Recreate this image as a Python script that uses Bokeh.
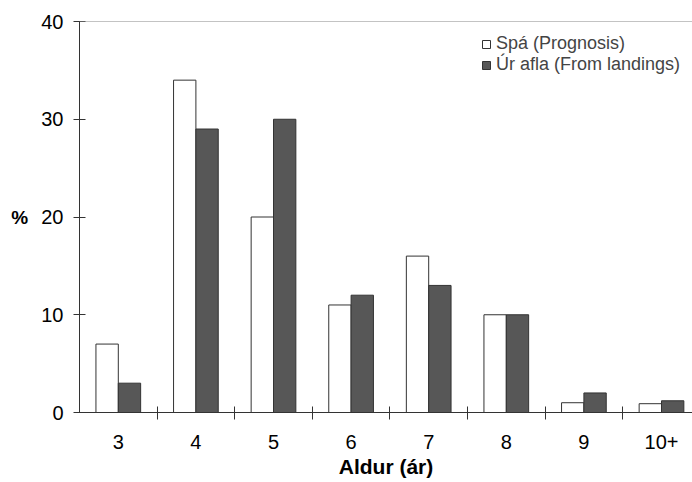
from bokeh.plotting import figure
from bokeh.models import Range1d, FixedTicker, Span, Legend, LegendItem
from bokeh.embed import file_html
from bokeh.resources import INLINE

ages = ["3", "4", "5", "6", "7", "8", "9", "10+"]
prognosis = [7, 34, 20, 11, 16, 10, 1, 0.9]
landings = [3, 29, 30, 12, 13, 10, 2, 1.2]
y_ticks = [0, 10, 20, 30, 40]

FONT = "Liberation Sans"
pos = list(range(1, len(ages) + 1))
bw = 0.288

p = figure(width=692, height=482, output_backend="svg", toolbar_location=None,
           x_range=Range1d(0.5, 0.5 + 613 / 77.6), y_range=Range1d(0, 40),
           min_border_left=79, min_border_top=21, min_border_right=0,
           min_border_bottom=70)
p.outline_line_color = None
p.xgrid.visible = False
p.ygrid.visible = False
p.background_fill_color = "white"

r1 = p.vbar(x=[x - bw / 2 for x in pos], top=prognosis, bottom=0, width=bw,
            fill_color="white", line_color="#333333", line_width=1)
r2 = p.vbar(x=[x + bw / 2 for x in pos], top=landings, bottom=0, width=bw,
            fill_color="#575757", line_color="#333333", line_width=1)

p.add_layout(Span(location=40, dimension="width", line_color="#888888", line_width=1))

# x axis
xa = p.xaxis[0]
xa.ticker = FixedTicker(ticks=pos, minor_ticks=[x + 0.5 for x in pos])
xa.major_label_overrides = {x: a for x, a in zip(pos, ages)}
xa.major_tick_in = 0
xa.major_tick_out = 0
xa.minor_tick_in = 6
xa.minor_tick_out = 7
xa.minor_tick_line_color = "#333333"
xa.axis_line_color = "#333333"
xa.major_label_standoff = 15
xa.major_label_text_font = FONT
xa.major_label_text_font_size = "20px"
xa.major_label_text_color = "black"
xa.axis_label = "Aldur (ár)"
xa.axis_label_text_font = FONT
xa.axis_label_text_font_size = "21px"
xa.axis_label_text_font_style = "bold"
xa.axis_label_text_color = "black"
xa.axis_label_standoff = 3

ya = p.yaxis[0]
ya.ticker = FixedTicker(ticks=y_ticks, minor_ticks=[])
ya.major_tick_in = 6
ya.major_tick_out = 6
ya.major_tick_line_color = "#333333"
ya.axis_line_color = "#333333"
ya.major_label_standoff = 10
ya.major_label_text_font = FONT
ya.major_label_text_font_size = "20px"
ya.major_label_text_color = "black"
ya.axis_label = "%"
ya.axis_label_orientation = "horizontal"
ya.axis_label_standoff = 10
ya.axis_label_text_font = FONT
ya.axis_label_text_font_size = "19px"
ya.axis_label_text_font_style = "bold"
ya.axis_label_text_color = "black"

legend = Legend(items=[LegendItem(label="Spá (Prognosis)", renderers=[r1]),
                       LegendItem(label="Úr afla (From landings)", renderers=[r2])],
                location=(402, 337))
legend.border_line_color = None
legend.background_fill_alpha = 0
legend.padding = 0
legend.margin = 0
legend.spacing = -3
legend.glyph_width = 10
legend.glyph_height = 10
legend.label_standoff = 5
legend.label_text_font = FONT
legend.label_text_font_size = "18px"
legend.label_height = 19
p.add_layout(legend)

open("out.html", "w").write(file_html(p, INLINE))
